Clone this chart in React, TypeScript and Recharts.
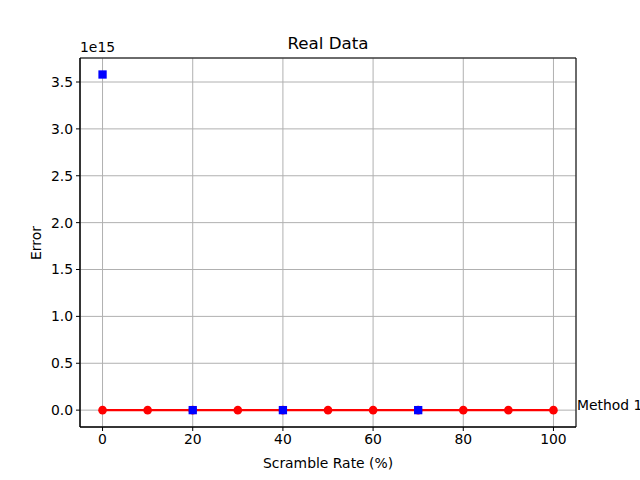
import React from "react";
import {
  ComposedChart,
  Line,
  Scatter,
  XAxis,
  YAxis,
  CartesianGrid,
  ReferenceArea,
  ReferenceDot,
} from "recharts";

const rates = [0, 10, 20, 30, 40, 50, 60, 70, 80, 90, 100];
const method1Error = [0, 0, 0, 0, 0, 0, 0, 0, 0, 0, 0];
const method2Rates = [0, 20, 40, 70];
const method2Error = [3.58e15, 0, 0, 0];
const xTicks = [0, 20, 40, 60, 80, 100];
const yTicks = [0, 0.5e15, 1e15, 1.5e15, 2e15, 2.5e15, 3e15, 3.5e15];

const lineData = rates.map((r, i) => ({ x: r, y: method1Error[i] }));
const scatterData = method2Rates.map((r, i) => ({ x: r, y: method2Error[i] }));

const FONT = "'DejaVu Sans', sans-serif";
const X_DOMAIN: [number, number] = [-5, 105];
const Y_DOMAIN: [number, number] = [-0.18e15, 3.756e15];

const Square = (props: any) => {
  const { cx, cy } = props;
  if (cx == null || cy == null) return null;
  const s = 8.3;
  return <rect x={cx - s / 2} y={cy - s / 2} width={s} height={s} fill="#0000ff" />;
};

// text label sits on its baseline at the anchor point, like matplotlib's default
const SeriesLabel = (props: any) => {
  const { viewBox } = props;
  if (!viewBox) return null;
  const x = viewBox.x + (viewBox.width || 0) / 2;
  const y = viewBox.y + (viewBox.height || 0) / 2;
  return (
    <text x={x + 1} y={y} dy={-0.5} fill="#000" fontSize={13.9} fontFamily={FONT}>
      Method 1
    </text>
  );
};

const tickStyle = { fill: "#000", fontSize: 13.9, fontFamily: FONT };

export default function App() {
  return (
    <div
      style={{
        position: "absolute",
        left: 0,
        top: 0,
        width: 640,
        height: 480,
        background: "#fff",
        fontFamily: FONT,
      }}
    >
      <ComposedChart
        width={640}
        height={480}
        margin={{ top: 58, right: 64, left: 0, bottom: 20 }}
      >
        <CartesianGrid stroke="#b0b0b0" strokeWidth={1} />
        <XAxis
          type="number"
          dataKey="x"
          domain={X_DOMAIN}
          ticks={xTicks}
          allowDataOverflow
          height={33}
          tickSize={4}
          tickMargin={3}
          tick={tickStyle}
          axisLine={{ stroke: "#000" }}
          tickLine={{ stroke: "#000" }}
        />
        <YAxis
          type="number"
          dataKey="y"
          domain={Y_DOMAIN}
          ticks={yTicks}
          allowDataOverflow
          width={80}
          tickSize={4}
          tickMargin={3}
          tick={tickStyle}
          tickFormatter={(v: number) => (v / 1e15).toFixed(1)}
          axisLine={{ stroke: "#000" }}
          tickLine={{ stroke: "#000" }}
        />
        <ReferenceArea
          x1={X_DOMAIN[0]}
          x2={X_DOMAIN[1]}
          y1={Y_DOMAIN[0]}
          y2={Y_DOMAIN[1]}
          fill="none"
          stroke="#000"
          strokeWidth={1}
          fillOpacity={0}
        />
        <Line
          data={lineData}
          dataKey="y"
          type="linear"
          stroke="#ff0000"
          strokeWidth={2.1}
          dot={{ r: 4.3, fill: "#ff0000", stroke: "#ff0000", strokeWidth: 0 }}
          isAnimationActive={false}
        />
        <Scatter
          data={scatterData}
          dataKey="y"
          shape={<Square />}
          isAnimationActive={false}
        />
        <ReferenceDot
          x={105}
          y={0}
          r={0}
          ifOverflow="visible"
          label={<SeriesLabel />}
        />
      </ComposedChart>
      <div
        style={{
          position: "absolute",
          left: 80,
          width: 496,
          top: 33,
          textAlign: "center",
          fontSize: 16.7,
          lineHeight: "20px",
        }}
      >
        Real Data
      </div>
      <div
        style={{
          position: "absolute",
          left: 80,
          top: 39,
          fontSize: 13.9,
          lineHeight: "16px",
        }}
      >
        1e15
      </div>
      <div
        style={{
          position: "absolute",
          left: 80,
          width: 496,
          top: 455,
          textAlign: "center",
          fontSize: 13.9,
          lineHeight: "16px",
        }}
      >
        Scramble Rate (%)
      </div>
      <div
        style={{
          position: "absolute",
          left: 36,
          top: 243,
          fontSize: 13.9,
          lineHeight: "16px",
          transform: "translate(-50%, -50%) rotate(-90deg)",
        }}
      >
        Error
      </div>
    </div>
  );
}
